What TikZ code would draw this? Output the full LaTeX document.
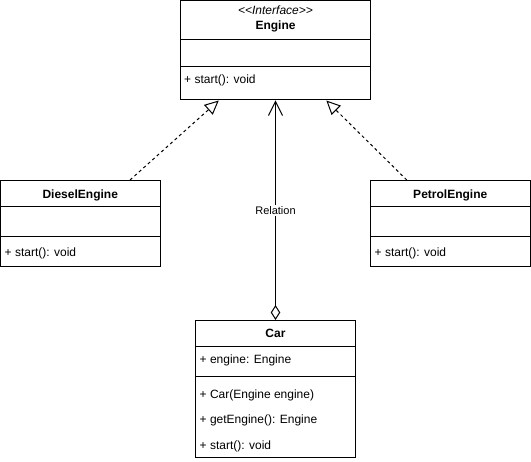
\documentclass[tikz,border=0pt]{standalone}
\usepackage{fontspec}
\setmainfont{Liberation Sans}
\usetikzlibrary{arrows.meta,calc}
\begin{document}
\begin{tikzpicture}[x=1pt,y=-1pt,
  cls/.style={draw, line width=1pt, inner sep=0pt, fill=white},
  sep/.style={line width=1pt},
  title/.style={anchor=base, inner sep=0pt, font=\fontsize{12}{14}\selectfont\bfseries},
  stereo/.style={anchor=base, inner sep=0pt, font=\fontsize{12}{14}\selectfont\itshape},
  member/.style={anchor=base west, inner sep=0pt, font=\fontsize{12}{14}\selectfont},
  realize/.style={line width=1pt, dash pattern=on 3pt off 3pt,
    -{Triangle[open, length=14pt, width=13pt, fill=white]}},
  assoc/.style={line width=1pt,
    {Diamond[open, length=15pt, width=9.5pt, fill=white]}-{Straight Barb[length=14pt, width=14pt]}},
  lbl/.style={fill=white, inner sep=1.5pt, font=\fontsize{11}{13}\selectfont}]

\useasboundingbox (0,0) rectangle (531,462);

% interface Engine
\node[cls, minimum width=190pt, minimum height=99.5pt] (engine) at (275.5,50.25) {};
\draw[sep] (engine.west |- 0,39.5) -- (engine.east |- 0,39.5);
\draw[sep] (engine.west |- 0,66.5) -- (engine.east |- 0,66.5);
\node[stereo] (engineSt) at (275.5,15) {{<}{<}Interface{>}{>}};
\node[title] (engineName) at (275.5,29.5) {Engine};
\node[member] (engineM1) at (184,84) {+ start(): void};

% class DieselEngine
\node[cls, minimum width=159.5pt, minimum height=86pt] (diesel) at (80.25,223.5) {};
\draw[sep] (diesel.west |- 0,206.5) -- (diesel.east |- 0,206.5);
\draw[sep] (diesel.west |- 0,236.5) -- (diesel.east |- 0,236.5);
\node[title] (dieselName) at (80.25,199) {DieselEngine};
\node[member] (dieselM1) at (4.5,257) {+ start(): void};

% class PetrolEngine
\node[cls, minimum width=159.5pt, minimum height=86pt] (petrol) at (450.25,223.5) {};
\draw[sep] (petrol.west |- 0,206.5) -- (petrol.east |- 0,206.5);
\draw[sep] (petrol.west |- 0,236.5) -- (petrol.east |- 0,236.5);
\node[title] (petrolName) at (450.25,199) {PetrolEngine};
\node[member] (petrolM1) at (374.5,257) {+ start(): void};

% class Car
\node[cls, minimum width=160pt, minimum height=137.5pt] (car) at (275.5,389.25) {};
\draw[sep] (car.west |- 0,346.5) -- (car.east |- 0,346.5);
\draw[sep] (car.west |- 0,376.5) -- (car.east |- 0,376.5);
\node[title] (carName) at (275.5,337.5) {Car};
\node[member] (carA1) at (199.5,364) {+ engine: Engine};
\node[member] (carM1) at (199.5,398.5) {+ Car(Engine engine)};
\node[member] (carM2) at (199.5,424) {+ getEngine(): Engine};
\node[member] (carM3) at (199.5,449.5) {+ start(): void};

% realizations
\draw[realize] ($(diesel.north west)!0.81!(diesel.north east)$)
  -- ($(engine.south west)!0.203!(engine.south east)$);
\draw[realize] ($(petrol.north west)!0.229!(petrol.north east)$)
  -- ($(engine.south west)!0.766!(engine.south east)$);

% aggregation
\draw[assoc] (car.north) -- node[lbl] (rel) {Relation} (engine.south);

\end{tikzpicture}
\end{document}
